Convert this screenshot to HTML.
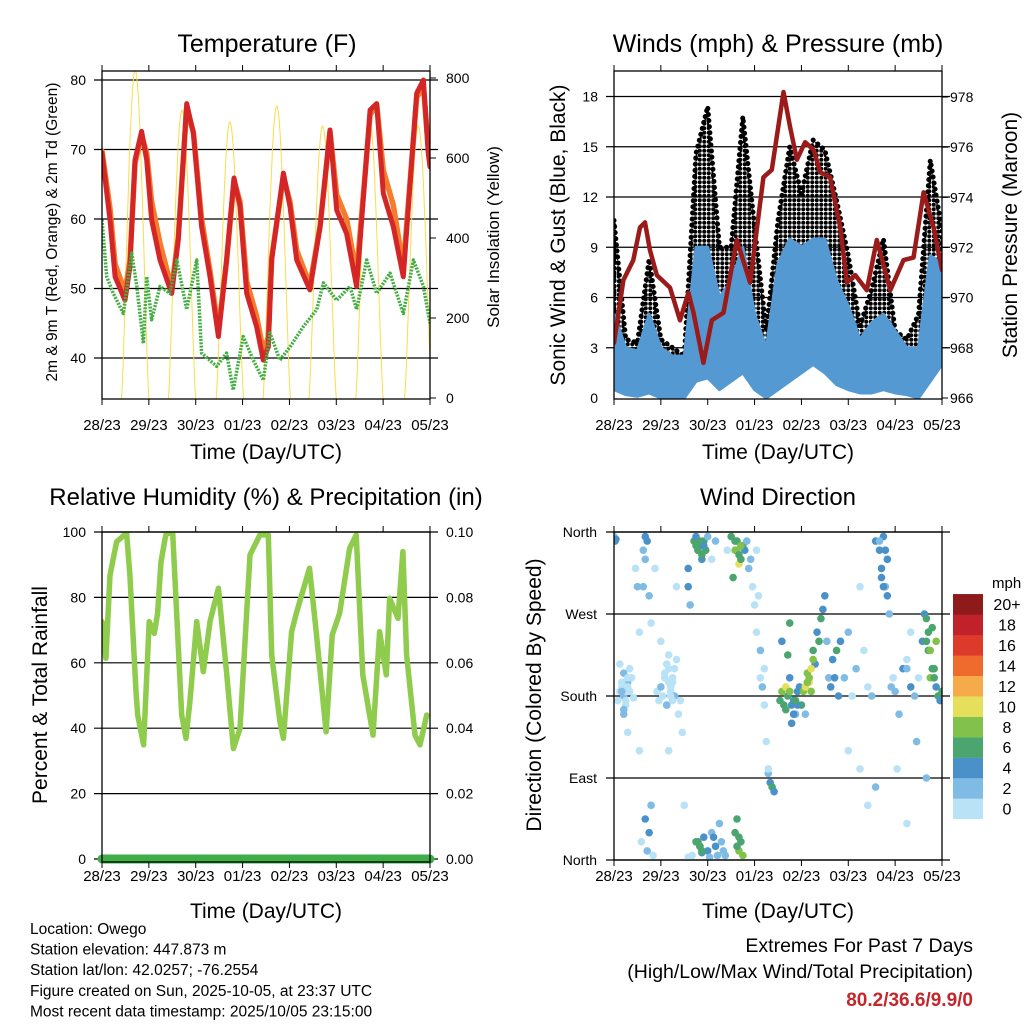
<!DOCTYPE html>
<html><head><meta charset="utf-8"><style>
html,body{margin:0;padding:0;background:#fff;}
svg{display:block;font-family:"Liberation Sans",sans-serif;}
</style></head><body>
<svg id="chart" width="1024" height="1024" viewBox="0 0 1024 1024" xmlns="http://www.w3.org/2000/svg"></svg>
<script>
// ---- data ----
const dayLabels=["28/23","29/23","30/23","01/23","02/23","03/23","04/23","05/23"];
const tempHours=[0,4.1,6.7,11.8,14.3,16.9,20.3,22.9,25.4,29.7,35.7,39.1,43.4,46.8,51,55.3,59.6,63.8,67.6,70.7,74.1,79.2,82.6,85.2,86.9,92.9,96.3,99.7,106.5,111.7,116.8,120.2,125.3,130.4,137.3,140.7,144.1,149.2,154.3,161.2,164.6,167.1,168];
const temp2m=[69.5,59.9,51.7,48.3,53.1,68.5,72.6,68.5,59.9,54.1,49.3,57,76.6,72.3,58.9,51.7,43.1,54.1,65.9,61.8,49.3,44.5,39.7,41.6,54.1,66.6,61.8,54.1,49.8,58.9,72.8,61.3,57.9,50.3,75.7,76.6,63.7,58.9,51.7,78.1,80,69.5,67.5];
const temp9m=[69.8,61.5,53.5,49.5,54,68,72,69.5,62.5,56.5,50,57.5,76,72.5,60,52.5,44,54,65.5,62.5,51,46,41,43,54.5,66,62.5,55.5,50.5,59,72.5,63.5,60,52,75,76.5,67,62,53,77.5,79,70.5,68];
const dewHours=[0,2.4,5.8,10.9,15.2,17.8,21.2,22.9,25.4,29.7,34.8,38.3,43.4,48.5,51,58.7,63.8,67.2,72.3,77.5,82.6,86,91.1,96.3,103.1,110,113.4,120.2,127,130.4,135.6,140.7,147.5,154.3,159.5,164.6,168];
const dewPt=[59.9,51.7,49.3,46.4,55.1,50.3,42.1,51.7,45.5,50.3,49.3,54.1,47,54.1,40.7,38.8,40.7,35.4,43.1,39.7,36.8,43.6,39.7,41.6,44.5,47,50.8,48.3,50.3,47,54.1,49.3,52.2,46.4,54.1,50.3,45];
const solarPeakHours=[17,41,65.5,89.5,113,137,162];
const solarPeakValues=[820,720,690,730,680,700,680];
const pressHours=[0,4.8,9.9,13.3,15.9,18.4,21.9,28.7,33.8,38.1,40.7,45.8,50.1,56.1,62.9,69.7,76.5,80.8,86.8,90.2,93.7,97.9,102.2,105.6,110.7,115.9,119.3,123.6,129.5,134.6,141.5,148.3,153.4,158.6,163.7,168];
const pressure=[968.2,970.7,971.5,972.8,973.0,971.9,970.9,970.4,969.1,970.2,969.4,967.4,969.1,969.4,972.3,970.6,974.8,975.1,978.2,976.8,975.5,976.2,975.9,975.0,974.8,972.8,970.6,970.9,970.3,972.3,970.3,971.5,971.6,974.2,972.8,971.1];
const windHours=[0,6,12,18,24,30,36,42,48,54,60,66,72,78,84,90,96,102,108,114,120,126,132,138,144,150,156,162,168];
const gustHigh=[10.6,3.5,3.3,8.3,3.5,3,2.5,14.6,17.4,9,9,16.8,10.2,4,10.6,15,12.2,15.4,14.8,11.8,8.5,4.3,6.5,9.5,4,3.5,5,14.2,10];
const gustLow=[3,2,2,3,2.2,1.5,0.8,6,5,3,3,7,3,1,4,5,4,5,5,4,3,1,2,3,1.5,1,1,5,4];
const windHigh=[5,3,2.8,5,3,2.5,2.5,9,9,6,7,9,5,3,8,9.5,9,9.5,9.5,7,5.5,3.5,4.5,5,4,3,3,8.5,8];
const windLow=[0.5,0.2,0.1,0.3,0,0,0,1,1.2,0.5,1,1.5,0.5,0,0.5,1,1.5,2,1.5,0.8,0.5,0.3,0.3,0.5,0.3,0.2,0,1,2];
const rhHours=[0,2,4.1,7.5,12.6,14.3,17.4,18.3,21.3,24.2,26.8,28.5,30.2,32.3,33,36.2,40.8,43,45,48.5,51.9,55.3,59.6,63.9,67.3,70.7,75.8,80.9,85.2,86.9,91.1,92.9,97.1,99.5,106.3,109.7,114.8,117.9,121.7,126.8,130.2,133.6,138.8,142.2,145.6,147.3,151.6,154.1,156,160.3,162.9,166.3];
const rhValues=[72.6,61.4,86.8,97,99.7,86.8,51.2,44,34.9,72.6,69,75.1,90.9,98,99.6,99.6,44,36.9,48.1,72.6,57.3,72.6,82.8,56.3,33.8,39.9,93,99.1,99.1,62.4,42,36.9,69.5,75.1,88.9,69.5,38.9,68.5,75.1,95,99.1,56.3,37.9,69.5,56.3,79.7,73.6,94,62.4,37.9,34.9,44];
const precipHours=[0,168];
const precipTotal=[0,0];
const dirHours=[0,0.5,1,2,3,4,5,6,7,8,9,10,3,5,7,
11,12,13,14,15,15,16,16,17,17,18,18,19,20,21,13,16,19,
22,23,24,25,26,27,28,29,30,31,32,33,34,35,24,28,32,36,38,38,38,39,40,
41,42,42,43,44,44,45,45,46,46,47,48,48,49,50,51,52,53,54,55,56,57,58,50,52,
60,61,62,62,63,63,64,64,65,65,66,66,67,68,69,70,
71,72,73,74,75,76,77,78,79,80,81,82,73,75,77,79,
85,86,87,88,89,90,91,92,93,94,95,96,97,98,99,100,101,102,103,104,105,106,107,108,109,110,111,86,90,94,98,
112,113,114,115,116,118,120,122,124,126,128,130,132,134,136,137,138,139,140,141,142,143,144,146,148,150,152,154,156,158,159,160,161,162,163,164,165,166,167,168,120,126,130,134,145,150,155,160,
4,5,6,7,8,5,6,7,4,
26,27,28,29,30,31,27,29,30,28,
42,43,44,45,46,43,44,45,
62,63,64,65,63,64,
88,89,90,91,92,93,100,101,102,99,
137,138,139,136,140,
150,152,160,161,162,163,164,165];
const dirDegrees=[355,350,352,175,185,190,180,170,195,185,200,178,215,160,140,
320,300,250,20,340,300,355,330,10,350,30,290,60,5,320,120,45,260,
185,175,190,180,200,170,210,185,195,180,220,160,175,140,240,120,300,60,300,320,3,280,5,
350,355,20,340,345,15,330,8,350,25,340,355,10,3,30,25,15,5,40,20,10,5,340,330,350,
355,310,350,30,340,45,325,10,330,20,345,5,340,350,320,330,
300,280,250,290,200,190,210,130,95,85,80,75,340,230,170,100,
175,185,170,190,225,200,150,175,160,185,190,170,185,190,205,195,185,230,215,250,240,265,275,290,240,200,190,240,260,170,160,
220,200,230,180,240,200,250,180,210,300,230,190,180,350,340,320,355,300,330,270,190,200,185,160,210,220,250,180,200,240,270,265,230,200,255,210,190,180,175,185,120,100,60,80,100,40,130,90,
195,205,185,200,210,165,175,190,185,
205,215,195,190,200,210,170,180,175,225,
345,340,350,335,345,20,15,10,
340,350,335,345,15,25,
165,180,185,170,160,175,200,210,220,195,
310,300,340,350,290,
210,190,240,250,230,210,200,240];
const dirSpeeds=[3,4,5,1,1.5,1,2,1,2.5,1,1.5,1,0.5,2,1,
1,2,1,1,3,3,4,3,3,4,4,3,2,1,1,1,4,1,
1,1,2,0.5,1,2,0.5,1,0.5,2,0,1,1,0,0,0.5,1,0,4,4,1,3,0,
6,5,6,6,7,6,5,4,6,4,6,3,4,3,3,4,4,3,3,3,3,2,1,1,2,
6,7,7,6,8,7,10,8,7,7,6,8,4,3,3,2,
0,1,0,1,1,2,1,0,3,5,6,4,1,2,0,1,
6,8,6,10,7,5,5,4,3,5,4,6,8,10,9,10,8,7,5,4,6,7,5,4,3,3,4,5,6,4,3,
5,4,6,4,5,2,3,1,2,1,0,1,3,4,4,4,5,3,4,2,3,1,2,3,4,1,0,2,1,4,5,7,6,8,6,7,5,6,5,7,1,0,1,3,0,1,2,2,
1,2,1,1.5,0.5,2,1,1,2,
1,0.5,1.5,1,0.5,1,2,1,0.5,1,
6,7,6,7,5,6,6,7,
8,7,7,8,7,6,
6,7,8,5,4,6,8,10,9,8,
4,5,4,3,5,
3,4,6,7,8,6,7,8];
const speedBinLabels=["0","2","4","6","8","10","12","14","16","18","20+"];
const speedBinColors=["#b9e2f6","#7fbbe5","#4b91c9","#4aa56f","#82c24c","#e5df5b","#f6ab4a","#ef6a2d","#dc3a2a","#c0212a","#8e1a1c"];

// ---- helpers ----
const NS="http://www.w3.org/2000/svg";
const svg=document.getElementById('chart');
function el(tag,attrs,name,parent){
  const e=document.createElementNS(NS,tag);
  for(const k in attrs) e.setAttribute(k,attrs[k]);
  
  
  (parent||svg).appendChild(e);
  return e;
}
function txt(x,y,s,size,anchor,name,extra){
  const a=Object.assign({x:x,y:y,'font-size':size,'text-anchor':anchor||'middle',fill:'#000'},extra||{});
  const t=el('text',a,name);
  t.textContent=s;
  return t;
}
function vtxt(x,y,s,size,name){
  return txt(x,y,s,size,'middle',name,{transform:`rotate(-90 ${x} ${y})`});
}
function xs(P,t){return P.x0+t/168*(P.x1-P.x0);}
const defs=el('defs',{},'svg-defs');
const pat=el('pattern',{id:'dots',width:4.5,height:4.5,patternUnits:'userSpaceOnUse'},'gust-dot-pattern',defs);
el('circle',{cx:2.25,cy:2.25,r:2.0,fill:'#000'},'gust-dot',pat);
function clip(P,id){
  const c=el('clipPath',{id:id},'clip-path',defs);
  el('rect',{x:P.x0,y:P.yt,width:P.x1-P.x0,height:P.yb-P.yt},'clip-rect',c);
  return `url(#${id})`;
}
function frame(P,pfx){
  el('rect',{x:P.x0,y:P.yt,width:P.x1-P.x0,height:P.yb-P.yt,fill:'none',stroke:'#000','stroke-width':1.3},pfx+'-plot-frame');
  for(let i=0;i<dayLabels.length;i++){
    const x=xs(P,i*24);
    el('line',{x1:x,x2:x,y1:P.yb,y2:P.yb+6,stroke:'#000','stroke-width':1},pfx+'-x-tick');
    el('line',{x1:x,x2:x,y1:P.yt,y2:P.yt-6,stroke:'#000','stroke-width':1},pfx+'-x-tick-top');
    txt(x,P.lab,dayLabels[i],15,'middle',pfx+'-x-tick-label');
  }
  txt((P.x0+P.x1)/2,P.ttl,'Time (Day/UTC)',21,'middle',pfx+'-x-axis-title');
}
function hline(P,y,pfx){
  el('line',{x1:P.x0-8,x2:P.x1+8,y1:y,y2:y,stroke:'#000','stroke-width':1.2},pfx+'-grid-line');
}
function ylab(x,y,s,anchor,pfx){txt(x,y+5,s,14,anchor,pfx);}
function poly(pts,attrs,name,cp){
  const a=Object.assign({points:pts.map(p=>p[0].toFixed(1)+','+p[1].toFixed(1)).join(' '),fill:'none','stroke-linejoin':'round','stroke-linecap':'round'},attrs);
  if(cp)a['clip-path']=cp;
  return el('polyline',a,name);
}

// ---- Panel 1: Temperature ----
const P1={x0:102,x1:430,yt:71,yb:399,lab:430,ttl:459};
const yT=v=>80+(80-v)*6.95;
const ySol=v=>398-v*0.4;
const c1=clip(P1,'c1');
txt(267,52,'Temperature (F)',25,'middle','temperature-title');
[80,70,60,50,40].forEach(v=>{hline(P1,yT(v),'temp');ylab(86,yT(v),String(v),'end','temp-y-tick-label');});
[0,200,400,600,800].forEach(v=>{el('line',{x1:P1.x1,x2:P1.x1+6,y1:ySol(v),y2:ySol(v),stroke:'#000'},'solar-y-tick');ylab(446,ySol(v),String(v),'start','solar-y-tick-label');});
solarPeakHours.forEach((h,i)=>{
  const pts=[];
  for(let k=-7;k<=7;k+=0.25){const t=h+k;if(t<0||t>168)continue;const f=Math.max(0,Math.cos(k/7*Math.PI/2));pts.push([xs(P1,t),ySol(solarPeakValues[i]*Math.pow(f,1.3))]);}
  poly(pts,{stroke:'#f9dc4a','stroke-width':1},'solar-insolation-line',c1);
});
poly(tempHours.map((t,i)=>[xs(P1,t),yT(temp9m[i])]),{stroke:'#f47c2a','stroke-width':5.5},'temp-9m-line',c1);
poly(tempHours.map((t,i)=>[xs(P1,t),yT(temp2m[i])]),{stroke:'#d42626','stroke-width':5},'temp-2m-line',c1);
poly(dewHours.map((t,i)=>[xs(P1,t),yT(dewPt[i])]),{stroke:'#44ae44','stroke-width':3.5,'stroke-dasharray':'2 1.3','stroke-linecap':'butt'},'dewpoint-2m-line',c1);
frame(P1,'temp');
vtxt(57,232,'2m & 9m T (Red, Orange) & 2m Td (Green)',15.5,'temp-y-axis-title');
vtxt(499,237,'Solar Insolation (Yellow)',17,'solar-y-axis-title');

// ---- Panel 2: Winds ----
const P2={x0:614,x1:942,yt:71,yb:399,lab:430,ttl:459};
const yW=v=>398-v*16.75;
const yP=v=>398-(v-966)*25.08;
const c2=clip(P2,'c2');
txt(778,52,'Winds (mph) & Pressure (mb)',25,'middle','winds-title');
[0,3,6,9,12,15,18].forEach(v=>{if(v>0)hline(P2,yW(v),'wind');ylab(598,yW(v),String(v),'end','wind-y-tick-label');});
[966,968,970,972,974,976,978].forEach(v=>{el('line',{x1:P2.x1,x2:P2.x1+6,y1:yP(v),y2:yP(v),stroke:'#000'},'pressure-y-tick');ylab(950,yP(v),String(v),'start','pressure-y-tick-label');});
{
  const up=windHours.map((t,i)=>[xs(P2,t),yW(gustHigh[i])]);
  const dn=windHours.map((t,i)=>[xs(P2,t),yW(gustLow[i])]).reverse();
  el('polygon',{points:up.concat(dn).map(p=>p.join(',')).join(' '),fill:'url(#dots)',stroke:'#000','stroke-width':5,'stroke-linejoin':'round','stroke-linecap':'round','stroke-dasharray':'0.1 6','clip-path':c2},'gust-scatter-band');
  const up2=windHours.map((t,i)=>[xs(P2,t),yW(windHigh[i])]);
  const dn2=windHours.map((t,i)=>[xs(P2,t),yW(windLow[i])]).reverse();
  el('polygon',{points:up2.concat(dn2).map(p=>p.join(',')).join(' '),fill:'#5599d3',stroke:'#5599d3','stroke-width':3,'stroke-linejoin':'round','clip-path':c2},'sonic-wind-band');
}
poly(pressHours.map((t,i)=>[xs(P2,t),yP(pressure[i])]),{stroke:'#9b1b1b','stroke-width':4.5},'pressure-line',c2);
frame(P2,'wind');
vtxt(565,235,'Sonic Wind & Gust (Blue, Black)',21,'wind-y-axis-title');
vtxt(1017,235,'Station Pressure (Maroon)',21,'pressure-y-axis-title');

// ---- Panel 3: RH ----
const P3={x0:102,x1:430,yt:532,yb:862,lab:881,ttl:918};
const yRH=v=>859-v*3.27;
const yPr=v=>859-v*3270;
const c3=clip(P3,'c3');
txt(266,505,'Relative Humidity (%) & Precipitation (in)',24,'middle','rh-title');
[0,20,40,60,80,100].forEach(v=>{hline(P3,yRH(v),'rh');ylab(86,yRH(v),String(v),'end','rh-y-tick-label');});
['0.00','0.02','0.04','0.06','0.08','0.10'].forEach(s=>{ylab(446,yPr(+s),s,'start','precip-y-tick-label');});
poly(rhHours.map((t,i)=>[xs(P3,t),yRH(rhValues[i])]),{stroke:'#8fcb4c','stroke-width':5.5},'rh-line',c3);
poly(precipHours.map((t,i)=>[xs(P3,t),yPr(precipTotal[i])]),{stroke:'#3fae49','stroke-width':9},'precip-line');
frame(P3,'rh');
vtxt(47,695,'Percent & Total Rainfall',21,'rh-y-axis-title');

// ---- Panel 4: Wind Direction ----
const P4={x0:614,x1:942,yt:532,yb:860,lab:881,ttl:918};
const yD=v=>860-v/360*328;
const c4=clip(P4,'c4');
txt(778,505,'Wind Direction',24,'middle','wind-direction-title');
[[360,'North'],[270,'West'],[180,'South'],[90,'East'],[0,'North']].forEach(([v,s])=>{hline(P4,yD(v),'dir');ylab(597,yD(v),s,'end','direction-tick-label');});
const nDir=Math.min(dirHours.length,dirDegrees.length,dirSpeeds.length);
for(let i=0;i<nDir;i++){
  const b=Math.min(10,Math.floor(dirSpeeds[i]/2));
  el('circle',{cx:xs(P4,dirHours[i]),cy:yD(dirDegrees[i]),r:3.8,fill:speedBinColors[b],'clip-path':c4},'wind-direction-point');
}
frame(P4,'dir');
vtxt(541,695,'Direction (Colored By Speed)',21,'direction-y-axis-title');
txt(992,588,'mph',15,'start','colorbar-unit-label');
speedBinColors.forEach((c,i)=>{
  const y=819-(i+1)*20.45;
  el('rect',{x:953,y:y,width:30,height:20.6,fill:c},'colorbar-swatch');
  txt(1007,y+16,speedBinLabels[i],16,'middle','colorbar-label');
});

// ---- footer ----
['Location: Owego','Station elevation: 447.873 m','Station lat/lon: 42.0257; -76.2554','Figure created on Sun, 2025-10-05, at 23:37 UTC','Most recent data timestamp: 2025/10/05 23:15:00'].forEach((s,i)=>{
  txt(30,934+i*20.6,s,15.5,'start','station-info-line');
});
txt(973,952,'Extremes For Past 7 Days',19.5,'end','extremes-heading');
txt(973,978,'(High/Low/Max Wind/Total Precipitation)',19.5,'end','extremes-subheading');
txt(973,1006,'80.2/36.6/9.9/0',19,'end','extremes-values',{fill:'#c4262c','font-weight':'bold'});
</script>
</body></html>
